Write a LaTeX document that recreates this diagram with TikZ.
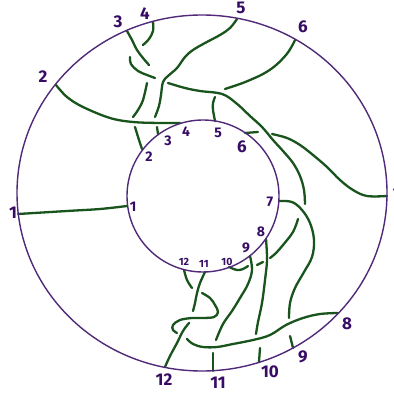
\documentclass[tikz,border=0pt]{standalone}
\usepackage{fontspec}
\setmainfont{Fira Sans}
\usepackage{xcolor}
\definecolor{grn}{RGB}{24,84,28}
\definecolor{pur}{RGB}{80,42,120}
\definecolor{ptx}{RGB}{55,12,100}
\begin{document}
\begin{tikzpicture}[x=1pt,y=-1pt,
  gl/.style={draw=grn, line width=2.3pt, line cap=round, line join=round},
  circ/.style={draw=pur, line width=1.4pt},
  olab/.style={text=ptx, font=\bfseries\fontsize{17}{17}\selectfont, inner sep=0pt},
  ilab/.style={text=ptx, font=\bfseries\fontsize{14}{14}\selectfont, inner sep=0pt},
  ilabs/.style={text=ptx, font=\bfseries\fontsize{10.5}{10.5}\selectfont, inner sep=0pt},
  sm/.style={smooth, tension=0.6}]
\useasboundingbox (0,0) rectangle (393,395);
\fill[white] (0,0) rectangle (393,395);
% end points on the outer circle
\coordinate (o1) at (18,214);
\coordinate (o2) at (56,85);
\coordinate (o3) at (127,31);
\coordinate (o4) at (153,22);
\coordinate (o5) at (237,19);
\coordinate (o6) at (295,40);
\coordinate (o7) at (387,196);
\coordinate (o8) at (338,313);
\coordinate (o9) at (293,348);
\coordinate (o10) at (259,362);
\coordinate (o11) at (213,371);
\coordinate (o12) at (165,367);
% end points on the inner circle
\coordinate (i1) at (127,206);
\coordinate (i2) at (142,149);
\coordinate (i3) at (158,134);
\coordinate (i4) at (180,123);
\coordinate (i5) at (215,121);
\coordinate (i6) at (245,133);
\coordinate (i7) at (279,201);
\coordinate (i8) at (266,239);
\coordinate (i9) at (250,256);
\coordinate (i10) at (229,267);
\coordinate (i11) at (205,272);
\coordinate (i12) at (184,270);
% green strands
\draw[gl] plot[sm] coordinates {(o1) (67,211) (100,209) (i1)};
\draw[gl] plot[sm] coordinates {(o2) (67,97) (83,107) (110,118) (133,122) (160,123) (i4)};
% o3 -> i2
\draw[gl] plot[sm] coordinates {(o3) (132,40) (137,50) (143,58) (149,65)};
\draw[gl] plot[sm] coordinates {(147,83) (143,100) (138,110) (133,117)};
\draw[gl] plot[sm] coordinates {(135,127) (139,140) (i2)};
% o4 -> i10
\draw[gl] plot[sm] coordinates {(o4) (153,31) (149,39) (143,45)};
\draw[gl] plot[sm] coordinates {(130,57) (131,64) (138,71) (147,75) (155,78)};
\draw[gl] plot[sm] coordinates {(168,83) (185,88) (200,91) (222,94) (236,103) (250,116) (262,127) (273,140) (283,151) (293,163) (300,176) (304,190) (305,204)};
\draw[gl] plot[sm] coordinates {(298,219) (293,232) (283,245) (276,253) (270,258)};
\draw[gl] (257,265) -- (263,262);
\draw[gl] plot[sm] coordinates {(i10) (237,270) (243,269) (248,266)};
% o5 -> i3
\draw[gl] plot[sm] coordinates {(o5) (230,28) (220,35) (205,43) (193,50) (185,57) (177,68) (168,76) (163,82) (161,95) (159,106) (155,117)};
\draw[gl] plot[sm] coordinates {(157,127) (i3)};
% i5 -> o6
\draw[gl] plot[sm] coordinates {(i5) (213,110) (213,103) (215,97)};
\draw[gl] plot[sm] coordinates {(225,89) (240,84) (250,80) (263,74) (275,66) (286,55) (292,46) (o6)};
% i6 -> o7
\draw[gl] (i6) -- (258,132);
\draw[gl] plot[sm] coordinates {(272,134) (287,138) (300,145) (313,155) (327,167) (340,180) (353,190) (367,196) (o7)};
% i7 -> o9
\draw[gl] plot[sm] coordinates {(i7) (292,202) (302,210) (310,223) (314,240) (312,257) (304,272) (295,288) (290,303) (289,318)};
\draw[gl] plot[sm] coordinates {(290,336) (o9)};
% i8 -> o10
\draw[gl] plot[sm] coordinates {(i8) (267,260) (265,280) (262,303) (258,322) (256,334)};
\draw[gl] plot[sm] coordinates {(260,348) (o10)};
% i9 -> o11
\draw[gl] plot[sm] coordinates {(i9) (252,270) (248,284) (240,298) (232,311) (223,324) (216,340)};
\draw[gl] plot[sm] coordinates {(213,353) (o11)};
% i11 -> o12
\draw[gl] plot[sm] coordinates {(i11) (200,283) (197,293) (195,303) (193,311)};
\draw[gl] plot[sm] coordinates {(189,323) (183,331) (177,343) (170,356) (o12)};
% i12 -> o8
\draw[gl] plot[sm] coordinates {(i12) (187,280) (192,288)};
\draw[gl] plot[sm] coordinates {(202,293) (210,298) (215,305) (218,312) (214,317) (203,318) (192,318) (180,320) (173,325) (173,330) (177,333)};
\draw[gl] plot[sm] coordinates {(187,339) (193,344) (203,347) (217,347) (233,344) (253,340) (270,335) (286,325) (303,318) (320,314) (o8)};
% circles
\draw[circ] (202,193) ellipse [x radius=185, y radius=178];
\draw[circ] (203,196) circle [radius=76];
% outer labels
\node[olab] (lo1) at (13,213) {1};
\node[olab] (lo2) at (43,77) {2};
\node[olab] (lo3) at (118,22) {3};
\node[olab] (lo4) at (145,14) {4};
\node[olab] (lo5) at (241,8) {5};
\node[olab] (lo6) at (303,27) {6};
\node[olab] (lo7) at (397,195) {7};
\node[olab] (lo8) at (347,324) {8};
\node[olab] (lo9) at (303,357) {9};
\node[olab] (lo10) at (270,372) {10};
\node[olab] (lo11) at (218,383) {11};
\node[olab] (lo12) at (164,380) {12};
% inner labels
\node[ilab] (li1) at (133,207) {1};
\node[ilab] (li2) at (149,157) {2};
\node[ilab] (li3) at (168,141) {3};
\node[ilab] (li4) at (186,132) {4};
\node[ilab] (li5) at (218,133) {5};
\node[ilab, font=\bfseries\fontsize{17}{17}\selectfont] (li6) at (242,147) {6};
\node[ilab] (li7) at (270,202) {7};
\node[ilab] (li8) at (261,232) {8};
\node[ilab] (li9) at (246,248) {9};
\node[ilabs] (li10) at (227,262) {10};
\node[ilabs] (li11) at (204,264) {11};
\node[ilabs] (li12) at (184,262) {12};
\end{tikzpicture}
\end{document}
